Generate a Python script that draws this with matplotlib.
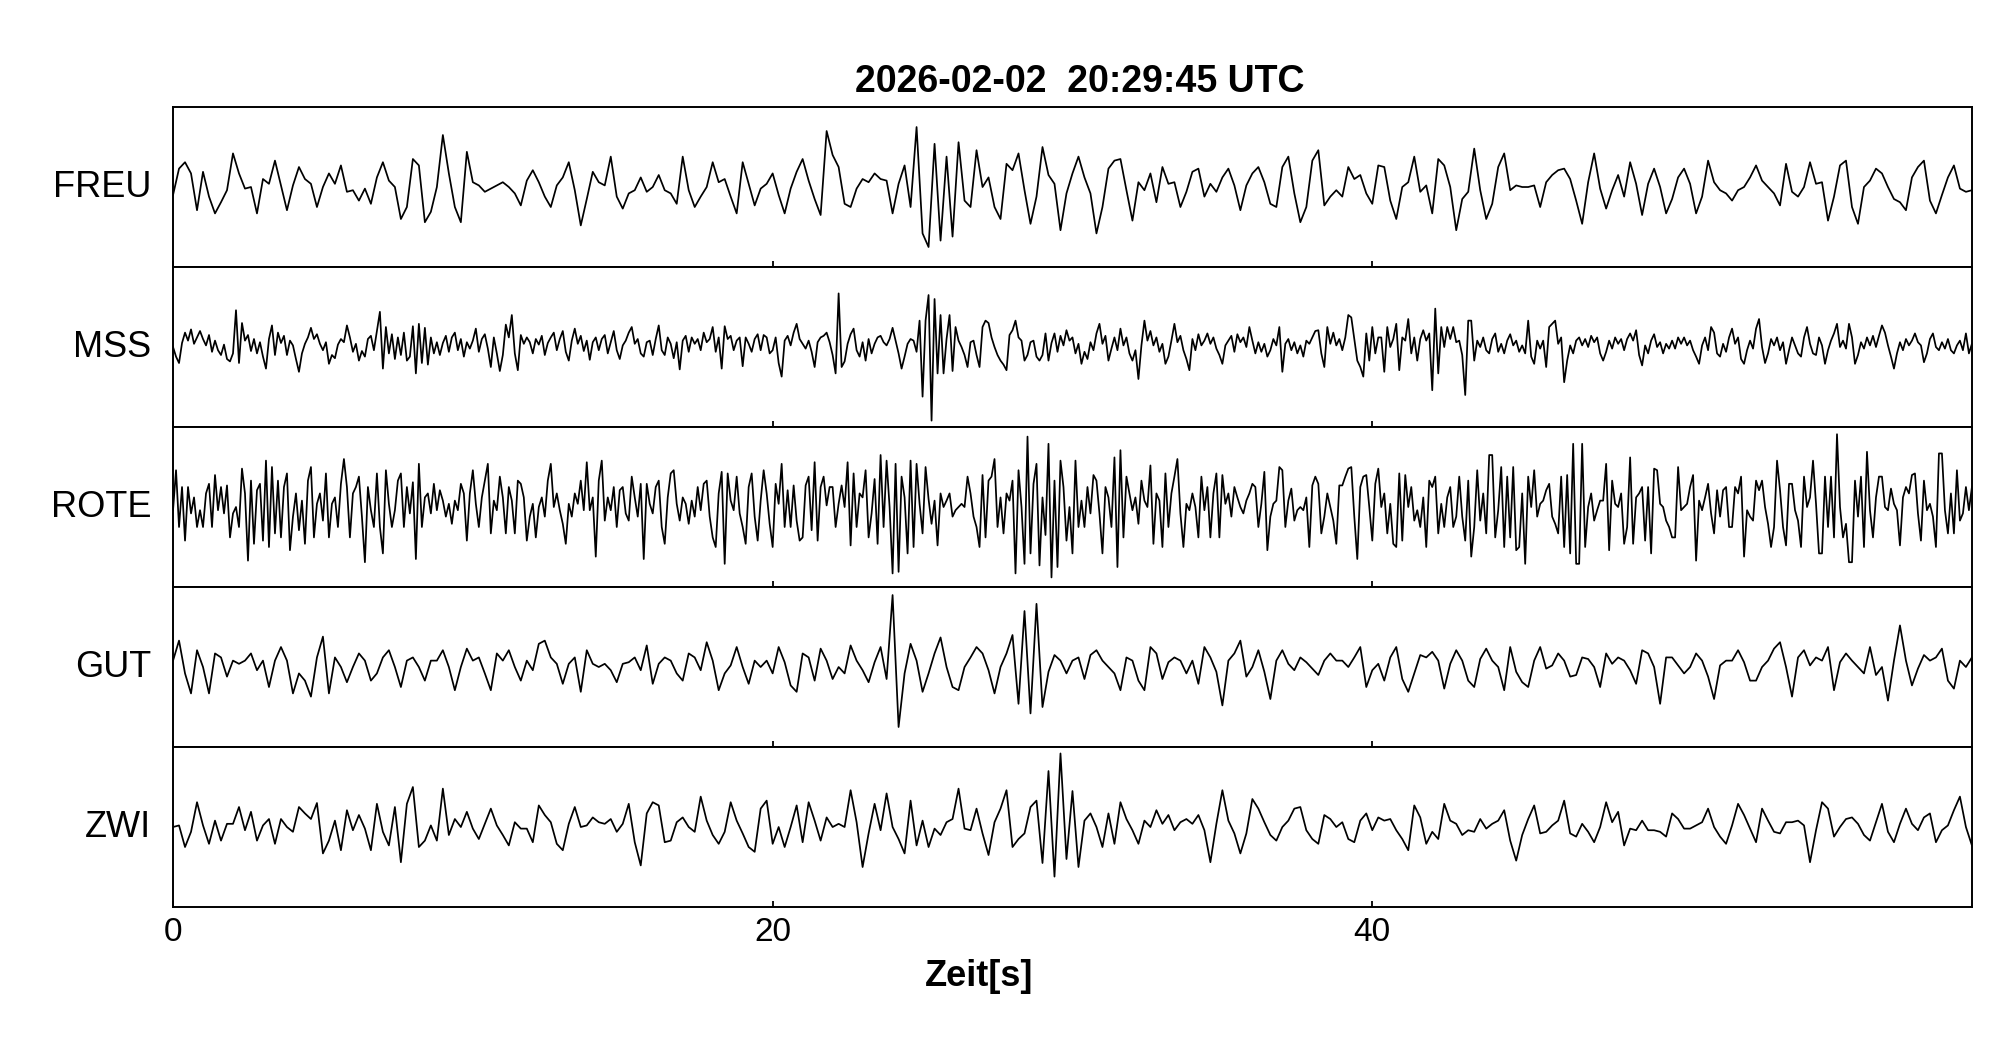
import numpy as np
import matplotlib
matplotlib.use("Agg")
import matplotlib.pyplot as plt

plt.rcParams['font.family'] = ['Liberation Sans', 'DejaVu Sans']

title = "2026-02-02  20:29:45 UTC"
stations = ["FREU", "MSS", "ROTE", "GUT", "ZWI"]
xticks = [0, 20, 40]

# amplitudes, in % of half a panel height
# FREU, GUT, ZWI: one value every 0.2 s; MSS, ROTE: every 0.1 s
dt_freu = 0.2
freu = [
    -10, 23, 31, 17, -29, 19, -12, -33, -19, -4,
    42, 17, -2, 0, -33, 10, 4, 33, 2, -29,
    2, 25, 10, 4, -25, 0, 17, 4, 27, -6,
    -4, -17, -2, -21, 12, 31, 8, 0, -40, -25,
    35, 27, -44, -31, 0, 65, 17, -25, -44, 44,
    6, 2, -6, -2, 2, 6, 0, -8, -23, 8,
    21, 6, -12, -25, 2, 12, 31, -4, -48, -15,
    19, 6, 2, 38, -12, -27, -8, -4, 12, -6,
    0, 15, -4, -8, -21, 38, -4, -25, -12, 0,
    31, 6, 10, -12, -33, 31, 4, -23, -2, 4,
    17, -10, -33, -2, 19, 35, 8, -15, -35, 70,
    40, 25, -21, -25, -2, 10, 6, 17, 10, 8,
    -33, 4, 27, -25, 75, -58, -75, 54, -67, 38,
    -62, 56, -17, -25, 46, 0, 12, -25, -40, 29,
    21, 42, -4, -46, -12, 50, 15, 4, -54, -8,
    17, 38, 12, -8, -58, -25, 23, 33, 35, -4,
    -42, 6, -4, 17, -19, 25, 4, 6, -25, -6,
    19, 23, -12, 4, -6, 12, 23, 2, -29, 2,
    17, 25, 6, -21, -25, 25, 38, -8, -44, -25,
    33, 46, -23, -12, -4, -12, 25, 10, 15, -8,
    -21, 27, 25, -17, -40, 0, 6, 38, -6, 2,
    -33, 35, 27, 0, -54, -15, -6, 48, -4, -40,
    -21, 25, 42, -4, 2, 0, 0, 2, -25, 6,
    15, 21, 23, 10, -17, -46, 6, 42, -2, -27,
    -4, 15, -12, 31, 4, -35, 4, 23, 0, -33,
    -15, 12, 23, 4, -33, -12, 33, 6, -4, -8,
    -17, -4, 0, 12, 27, 8, 0, -8, -23, 29,
    -6, -12, 0, 31, 4, 6, -42, -12, 27, 33,
    -25, -46, 0, 8, 23, 17, 0, -15, -19, -29,
    12, 25, 33, -17, -33, -10, 12, 27, -2, -6,
    -4,
]

dt_mss = 0.1
mss = [
    0, -12, -20, 5, 18, 8, 22, 4, 12, 20,
    10, 2, 15, -6, 8, -4, -10, 3, -15, -18,
    -8, 46, -20, 30, 8, 15, -5, 10, -8, 6,
    -12, -27, 10, 27, -10, 18, 5, 14, -10, 8,
    2, -15, -31, -8, 4, 12, 24, 10, 16, 4,
    -4, 6, -21, -10, -14, 3, 10, 6, 27, 12,
    -6, 4, -17, -5, -12, 10, 14, -4, 20, 44,
    -27, 25, -8, 16, -15, 12, -10, 18, -17, -12,
    26, -33, 29, -20, 24, -22, 12, -8, 6, -10,
    5, 14, -6, 12, 18, -4, 10, -12, 6, -2,
    8, 23, -6, 10, 16, -2, -25, 12, -8, -30,
    -10, 28, 12, 40, -8, -29, 15, 4, 12, 6,
    -8, 10, 3, 14, -10, 5, 12, 18, -4, 10,
    20, -6, -17, 8, 23, 4, 14, -5, 8, -16,
    6, 12, -4, 10, 15, -8, 6, 20, -4, -15,
    2, 8, 18, 25, 4, 10, -8, -12, 6, 8,
    -10, 10, 27, -4, -10, 12, 4, -14, 6, -28,
    8, 14, -6, 12, 4, 10, -4, 18, 6, 10,
    25, -6, 12, -27, 26, 10, 14, -4, 8, 12,
    -24, 12, 4, -6, 10, 16, -4, 15, 12, -8,
    -4, 12, -20, -37, 8, 14, 2, 18, 29, 10,
    4, -2, 8, -6, -25, 6, 12, 14, 18, 6,
    -10, -33, 67, -25, -18, 4, 16, 23, -4, -12,
    6, -17, 10, -8, 4, 12, 14, 6, 2, 10,
    24, 8, -8, -27, -12, 4, 10, 8, -6, 33,
    -62, 33, 65, -92, 60, -33, 40, -33, 10, 40,
    -30, 25, 8, 0, -10, -25, 6, 8, -10, -25,
    25, 33, 30, 12, 0, -10, -17, -22, -29, 15,
    21, 33, 12, 8, -17, -10, 6, 8, -12, -17,
    -10, 17, -17, 5, 17, -6, 14, 2, 21, 8,
    12, -8, 4, -21, -6, -15, 6, -4, 17, 29,
    4, 14, -17, -2, 12, -4, 23, 2, 12, -8,
    -17, -4, -40, 2, 33, 8, 20, 2, 12, -6,
    4, -21, -12, 8, 29, 6, 14, -4, -15, -29,
    10, -4, 16, 2, 8, 17, 4, 12, -2, -10,
    -21, 2, 8, 14, -6, 16, 6, 12, 0, 25,
    8, -8, 6, -6, 4, -12, -4, 10, 2, 25,
    -31, 4, 10, -4, 6, -8, 2, -12, 8, 4,
    12, 20, 21, -8, -25, 25, 4, 18, 2, 10,
    -4, 12, 40, 37, 10, -17, -25, -37, 17, -17,
    25, -8, 12, 12, -31, 25, 0, 10, 29, -29,
    12, 8, 35, -8, 12, -17, 10, 21, 8, 17,
    -54, 48, -33, 25, 0, 25, 10, 25, 6, 8,
    -10, -60, 33, 33, -17, 8, 0, 12, -4, -8,
    10, 17, -6, 4, -8, 8, 16, 2, 8, -6,
    2, -8, 33, -12, -21, 8, -2, 8, -25, 25,
    29, 33, 4, 12, -44, -17, 2, -8, 8, 12,
    2, 10, 0, 14, 6, 12, -8, -17, -6, 8,
    -2, 12, 4, 10, -4, 10, 17, 8, 21, -10,
    -23, 2, -8, 8, 16, 0, 6, -8, 4, -2,
    8, -2, 12, 4, 12, 2, 8, -4, -12, -21,
    2, 12, -4, 25, 18, -8, -12, 4, -6, 12,
    23, 4, 12, -15, -21, -4, 8, -2, 23, 35,
    0, -20, -8, 10, 2, 12, -4, 6, -21, -4,
    12, 2, -8, -12, 12, 25, 4, -8, -10, 12,
    2, -21, -4, 8, 17, 29, 0, 8, -2, 29,
    12, -21, -10, 6, -2, 12, 2, 14, 0, 14,
    27, 18, 2, -12, -27, -8, 6, -4, 10, 2,
    8, 17, 6, 2, -19, -8, 10, 17, 0, -4,
    6, -2, 10, -4, -8, 2, 8, -4, 17, -8,
    4,
]

dt_rote = 0.1
rote = [
    -4, 46, -25, 25, -42, 25, -8, 12, -25, -4,
    -25, 17, 29, -25, 40, -4, 25, -8, 27, -38,
    -8, 0, -25, 48, 17, -67, 33, -46, 21, 29,
    -42, 58, -50, 50, -33, 33, -38, 25, 42, -54,
    -12, 17, -29, 8, -46, 33, 50, -38, 4, 17,
    -17, 42, -38, 4, 12, -25, 29, 60, 25, -38,
    17, 25, 38, -12, -69, 25, -4, -25, 42, -25,
    -58, 46, 4, -25, -4, 33, 42, -25, 25, -8,
    31, -65, 54, -25, 12, 17, -8, 29, -4, 21,
    8, -12, 4, -21, 8, -4, 29, 17, -42, 17,
    46, 4, -25, 12, 33, 54, -33, 8, -4, 38,
    12, -33, 25, 8, -33, 33, 29, 12, -42, -12,
    4, -38, 0, 12, -12, 33, 54, 0, 17, -4,
    -21, -46, 4, -12, 17, 4, 33, -4, 56, -4,
    12, -62, 33, 58, -17, 12, -4, 25, -25, 21,
    25, -8, -17, 38, 12, -12, 29, -65, 29, 4,
    -8, 25, 33, -25, -46, 12, 42, 46, 4, -17,
    12, 4, -21, 8, -12, 25, -4, 29, 33, -12,
    -38, -50, 17, 44, -71, 42, 8, -4, 38, -8,
    -25, -46, 25, 42, -12, -42, 8, 46, 17, -21,
    -50, 29, 4, 54, -25, 21, -25, 27, -17, -42,
    -38, 27, 38, -29, 56, -42, 25, 38, 2, 25,
    25, -25, 4, 27, 0, 56, -48, 42, -25, 17,
    12, 46, -38, -8, 35, -46, 65, -25, 58, 0,
    -83, 54, -81, 38, 12, -58, 58, -50, 54, 4,
    -33, 50, 10, -21, 8, -48, 17, 0, 8, 17,
    -12, -4, 0, 4, 0, 38, 17, -12, -25, -50,
    40, -38, 33, 38, 60, -25, 12, -33, 17, 8,
    33, -83, 46, 0, -71, 88, -58, 29, 54, -73,
    12, -35, 79, -88, 33, -75, 58, 25, -42, 0,
    -58, 58, -25, 8, -25, 25, -8, 40, 33, -8,
    -58, 25, 12, -25, 62, -75, 71, -38, 38, 17,
    -4, 12, -21, 33, 8, 0, 52, -46, 17, 8,
    -50, 42, -25, 17, 38, 60, -8, -50, 4, -4,
    17, 0, -38, 38, -4, 25, -38, 17, 42, -38,
    40, 4, 17, -12, 25, 12, 0, -8, 8, 17,
    29, 25, -25, 4, 44, -54, -12, 4, 8, 50,
    46, -25, 8, 23, -17, -4, 0, -4, 12, -50,
    27, 38, 29, -33, -12, 17, 0, -17, -46, 27,
    27, 38, 48, 50, -12, -65, 25, 38, 40, 0,
    -42, 29, 48, 0, 17, -33, 4, -46, -50, 42,
    -42, 40, 0, 25, -17, -4, -25, 12, -50, 33,
    25, 38, -33, 4, -25, 12, 25, -25, -12, 38,
    -12, -42, 33, -62, -25, 46, -17, 17, -33, 65,
    65, -38, -4, 50, -50, 38, -38, 50, -54, -50,
    17, -71, 38, 0, 46, -12, 4, 8, 21, 29,
    -12, -21, -33, 38, -50, 40, -58, 79, -71, -71,
    79, -50, 0, 17, -17, -4, 8, 8, 54, -54,
    33, 4, 0, 17, -46, -25, 62, -46, 12, 17,
    25, -42, 25, -58, 48, 46, 4, 0, -17, -25,
    -38, -38, 50, -4, 0, 4, 25, 40, -67, 8,
    -4, 12, 29, -8, -33, 21, -12, 21, 25, -25,
    -25, 25, 17, 38, -62, -4, -12, -17, 33, 21,
    33, 0, -21, -50, -25, 58, 21, -25, -48, 29,
    29, -4, -17, -50, 38, 0, 12, 58, 4, -58,
    -58, 38, -25, 38, -38, 91, 0, -38, -21, -69,
    -69, 33, -12, 38, -50, 69, -4, -38, 12, 38,
    38, 0, -4, 23, 4, -4, -48, 12, 25, 17,
    40, 42, -8, -42, 33, -4, 4, -12, -50, 67,
    67, -4, -33, 17, -33, 46, -17, -8, 25, -4,
    25,
]

dt_gut = 0.2
gut = [
    8, 33, -8, -33, 21, 0, -33, 17, 12, -12,
    8, 4, 8, 17, -4, 8, -25, 8, 25, 8,
    -33, -8, -17, -37, 12, 38, -33, 12, 0, -19,
    0, 17, 8, -17, -8, 12, 21, 0, -25, 8,
    12, 0, -17, 8, 8, 21, 0, -29, 0, 23,
    8, 12, -8, -29, 17, 8, 21, 0, -17, 8,
    -4, 29, 33, 12, 4, -21, 4, 12, -31, 21,
    4, 0, 4, -4, -19, 4, 6, 12, -4, 27,
    -21, 4, 12, 8, -8, -17, 17, 12, -4, 31,
    8, -29, -8, 2, 25, 0, -21, 8, 0, 8,
    -8, 25, 6, -23, -31, 17, 12, -17, 23, 8,
    -15, 0, -8, 27, 8, -4, -19, 6, 25, -15,
    90, -75, -8, 29, 8, -31, -8, 17, 37, 0,
    -25, -29, 0, 12, 25, 17, -4, -33, 0, 17,
    40, -46, 70, -58, 79, -50, -6, 15, 8, -8,
    8, 12, -15, 15, 21, 8, 0, -8, -29, 12,
    8, -17, -29, 25, 17, -15, 6, 12, 8, -8,
    8, -21, 25, 12, -6, -48, 8, 17, 33, -12,
    0, 21, -6, -40, 8, 21, 4, -4, 12, 6,
    -2, -10, 8, 17, 8, 8, 0, 12, 25, -25,
    -4, 4, -17, 12, 25, -15, -31, -8, 15, 12,
    19, 8, -27, 4, 21, 8, -17, -25, 10, 23,
    8, 0, -29, 25, -6, -19, -25, 8, 25, -2,
    2, 17, 8, -12, -10, 12, 10, 0, -25, 17,
    4, 12, 8, -4, -21, 21, 17, 0, -46, 12,
    12, 2, -8, 0, 17, 8, -12, -40, 2, 8,
    8, 21, 6, -17, -17, 0, 8, 23, 31, 0,
    -37, 12, 21, 2, 12, 8, 25, -29, 6, 17,
    8, 0, -8, 25, -10, 0, -42, 8, 52, 8,
    -23, -2, 15, 8, 12, 23, -17, -27, 8, 0,
    12,
]

dt_zwi = 0.2
zwi = [
    0, 2, -25, -6, 31, 2, -21, 8, -17, 4,
    4, 25, -4, 19, -17, 2, 10, -21, 10, 0,
    -6, 25, 17, 10, 30, -33, -17, 8, -29, 21,
    -4, 15, -2, -29, 29, -6, -23, 25, -44, 29,
    50, -25, -17, 2, -17, 48, -10, 10, 0, 19,
    -2, -15, 4, 23, 2, -10, -23, 6, -2, -2,
    -19, 27, 15, 6, -21, -29, 4, 25, 0, 2,
    12, 6, 4, 10, -6, 4, 29, -19, -48, 17,
    31, 27, -19, -17, 6, 12, 0, -6, 38, 8,
    -10, -21, -6, 31, 8, -8, -25, -31, 23, 33,
    -21, 0, -25, 0, 27, -19, 31, 8, -17, 12,
    0, 4, 0, 46, 6, -50, -8, 29, -4, 42,
    0, -15, -33, 33, -23, 8, -25, -2, -10, 6,
    10, 48, -2, -4, 23, -8, -35, 6, 23, 46,
    -25, -15, -8, 25, 33, -45, 70, -62, 92, -40,
    45, -50, 8, 17, 0, -25, 17, -21, 31, 10,
    -4, -21, 8, 0, 21, 4, 15, -4, 6, 10,
    4, 15, -4, -44, 4, 46, 8, -8, -33, -8,
    35, 23, 6, -10, -17, 0, 8, 23, 25, -4,
    -15, -21, 15, 10, 0, 6, -15, -19, 8, 17,
    -4, 12, 8, 10, -4, -15, -29, 27, 12, -21,
    -6, -15, 29, 8, 4, -10, -4, -6, 10, -2,
    4, 8, 21, -17, -42, -10, 10, 27, -8, -6,
    2, 8, 33, -8, -12, 4, -6, -19, 0, 31,
    6, 19, -23, -2, -4, 8, -4, -4, -6, -12,
    17, 10, -2, -2, 2, 6, 23, 0, -12, -21,
    2, 29, 15, -2, -19, 23, 8, -6, -8, 6,
    6, 8, 2, -44, -4, 31, 23, -12, 0, 10,
    12, 4, -10, -17, 6, 29, -6, -19, 4, 23,
    4, -4, 12, 17, -19, -4, 2, 21, 38, 0,
    -23,
]

traces = [(freu, dt_freu), (mss, dt_mss), (rote, dt_rote), (gut, dt_gut), (zwi, dt_zwi)]

fig, axes = plt.subplots(5, 1, sharex=True, figsize=(20.05, 10.41), dpi=100)
fig.subplots_adjust(left=0.0863, right=0.9835, top=0.8972, bottom=0.1287, hspace=0)

for ax, name, (vals, dt) in zip(axes, stations, traces):
    t = np.arange(len(vals)) * dt
    ax.plot(t, vals, color='black', lw=1.25)
    ax.set_xlim(0, 60)
    ax.set_ylim(-100, 100)
    ax.set_yticks([])
    ax.tick_params(axis='x', direction='in', length=4, width=1.3,
                   labelsize=24, pad=7, labelbottom=False)
    for sp in ax.spines.values():
        sp.set_linewidth(1.4)
    ax.text(-0.0122, 0.5, name, transform=ax.transAxes,
            ha='right', va='center', fontsize=26)

axes[-1].set_xticks(xticks)
axes[-1].tick_params(axis='x', labelbottom=True)

fig.text(1080 / 2005, 1 - 82 / 1041, title, ha='center', va='center',
         fontsize=27, fontweight='bold')
fig.text(979 / 2005, 1 - 976 / 1041, "Zeit[s]", ha='center', va='center',
         fontsize=26, fontweight='bold')

fig.savefig("out.png", dpi=100)
